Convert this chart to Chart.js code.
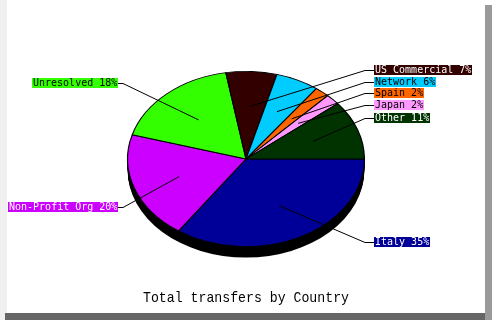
<!DOCTYPE html>
<html>
<head>
<meta charset="utf-8">
<script src="https://cdn.jsdelivr.net/npm/chart.js@4/dist/chart.umd.min.js"></script>
<style>
  body { margin: 0; background: #fff; }
  #wrap { position: relative; width: 492px; height: 320px; overflow: hidden; background: #fff; }
  .edge { position: absolute; }
  #left { left: 0; top: 0; width: 7px; height: 320px; background: #f0f0f0; }
  #right { left: 485px; top: 5px; width: 7px; height: 315px; background: #9a9a9a; }
  #bottom { left: 5px; top: 313px; width: 480px; height: 7px; background: #666; }
  canvas { position: absolute; left: 0; top: 0; }
</style>
</head>
<body>
<div id="wrap">
  <div class="edge" id="left"></div>
  <div class="edge" id="right"></div>
  <div class="edge" id="bottom"></div>
  <canvas id="pie" width="492" height="320"></canvas>
</div>
<script>
// data
const countries = ["Italy", "Non-Profit Org", "Unresolved", "US Commercial", "Network", "Spain", "Japan", "Other"];
const shares = [35, 20, 18, 7, 6, 2, 2, 11];
const chartTitle = "Total transfers by Country";

const sliceColors = ["#000099", "#cc00ff", "#33ff00", "#330000", "#00ccff", "#ff6600", "#ff99ff", "#003300"];
const labelTextColors = ["#fff", "#fff", "#000", "#fff", "#000", "#000", "#000", "#fff"];

// 3d look: squash the pie, add a black rim, then draw the labels with leader lines
const pie3d = {
    id: "pie3d",
    beforeDatasetsDraw(chart, args, opts) {
        var ctx = chart.ctx
        var arc = chart.getDatasetMeta(0).data[0]
        var cx = arc.x, cy = arc.y, r = arc.outerRadius
        ctx.save()
        ctx.fillStyle = opts.depthColor
        for (var d = opts.depth; d > 0; d--) {
            ctx.beginPath()
            ctx.ellipse(cx, cy + d, r, r * opts.tilt, 0, 0, Math.PI * 2)
            ctx.fill()
        }
        ctx.restore()
        ctx.save()
        ctx.translate(cx, cy)
        ctx.scale(1, opts.tilt)
        ctx.translate(-cx, -cy)
    },
    afterDatasetsDraw(chart, args, opts) {
        var ctx = chart.ctx
        ctx.restore()

        var arcs = chart.getDatasetMeta(0).data
        ctx.save()
        ctx.font = opts.font
        ctx.textBaseline = "middle"
        ctx.lineWidth = 1
        ctx.strokeStyle = "#000"
        arcs.forEach(function (arc, i) {
            var mid = (arc.startAngle + arc.endAngle) / 2
            var ax = arc.x + Math.cos(mid) * arc.outerRadius * opts.anchor
            var ay = arc.y + Math.sin(mid) * arc.outerRadius * opts.tilt * opts.anchor
            var text = countries[i] + " " + shares[i] + "%"
            var w = Math.round(ctx.measureText(text).width) + 2
            var ly = opts.labelY[i]
            var right = Math.cos(mid) >= 0
            var bx = right ? opts.rightX : opts.leftX - w

            ctx.beginPath()
            ctx.moveTo(ax, ay)
            if (right) {
                ctx.lineTo(opts.rightX - 9, ly + 0.5)
                ctx.lineTo(opts.rightX, ly + 0.5)
            } else {
                ctx.lineTo(opts.leftX + 5, ly + 0.5)
                ctx.lineTo(opts.leftX, ly + 0.5)
            }
            ctx.stroke()

            ctx.fillStyle = sliceColors[i]
            ctx.fillRect(bx, ly - 5, w, 10)
            ctx.fillStyle = labelTextColors[i]
            ctx.save()
            ctx.translate(bx + 1, ly + 0.5)
            ctx.scale(1, 1.12)
            ctx.fillText(text, 0, 0)
            ctx.restore()
        })

        // title, narrow and tall like the original bitmap font
        ctx.font = opts.titleFont
        ctx.fillStyle = "#000"
        ctx.textAlign = "center"
        ctx.textBaseline = "alphabetic"
        ctx.translate(chart.width / 2, opts.titleY)
        ctx.scale(0.88, 1)
        ctx.fillText(chartTitle, 0, 0)
        ctx.restore()
    }
}

new Chart(document.getElementById("pie"), {
    type: "pie",
    data: {
        labels: countries,
        datasets: [{
            data: shares,
            backgroundColor: sliceColors,
            borderColor: "#000",
            borderWidth: 1.2,
            hoverOffset: 0
        }]
    },
    options: {
        responsive: false,
        animation: false,
        rotation: 90,
        layout: { padding: { left: 127, right: 127, top: 40, bottom: 42 } },
        plugins: {
            legend: { display: false },
            tooltip: { enabled: false },
            title: { display: false },
            pie3d: {
                tilt: 0.74,
                depth: 11,
                depthColor: "#000",
                anchor: 0.6,
                font: '10px "DejaVu Sans Mono"',
                titleFont: '15px "Liberation Mono"',
                titleY: 302,
                rightX: 374,
                leftX: 118,
                labelY: [242, 207, 83, 70, 82, 93, 105, 118]
            }
        }
    },
    plugins: [pie3d]
});
</script>
</body>
</html>
